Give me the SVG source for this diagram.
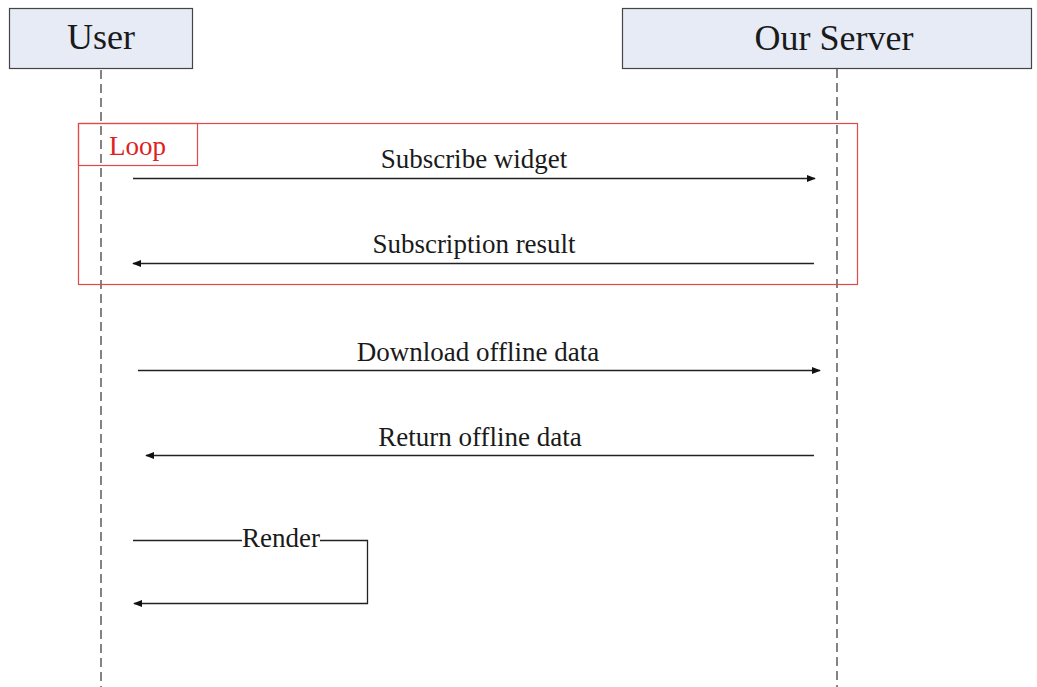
<svg xmlns="http://www.w3.org/2000/svg" width="1037" height="687" viewBox="0 0 1037 687">
  <style>
    .actor rect { fill: #e6ebf6; stroke: #444; stroke-width: 1.2; }
    .actor text { font-family: "Liberation Serif", serif; font-size: 36px; fill: #1a1a1a; text-anchor: middle; }
    .lifeline { stroke: #333; stroke-width: 1.2; stroke-dasharray: 9 5; fill: none; }
    .msg { stroke: #222; stroke-width: 1.3; fill: none; }
    .label { font-family: "Liberation Serif", serif; font-size: 27px; fill: #1a1a1a; text-anchor: middle; }
    .frame { fill: none; stroke: #e24a4a; stroke-width: 1.2; }
    .frame-label { font-family: "Liberation Serif", serif; font-size: 27px; fill: #e02020; }
  </style>
  <defs>
    <marker id="arrow" viewBox="0 0 10 10" refX="9" refY="5" markerWidth="9" markerHeight="9" markerUnits="userSpaceOnUse" orient="auto">
      <path d="M0,1 L10,5 L0,9 Z" fill="#111"/>
    </marker>
  </defs>

  <!-- lifelines -->
  <g id="lifelines">
    <line class="lifeline" x1="101" y1="70" x2="101" y2="687"/>
    <line class="lifeline" x1="837" y1="69" x2="837" y2="687"/>
  </g>

  <!-- participants -->
  <g id="user" class="actor">
    <rect x="9.5" y="8.5" width="183" height="60"/>
    <text x="101" y="49">User</text>
  </g>
  <g id="server" class="actor">
    <rect x="622.5" y="8.5" width="409" height="60"/>
    <text x="834" y="50">Our Server</text>
  </g>

  <!-- loop frame -->
  <g id="loop">
    <rect class="frame" x="78.5" y="123.5" width="779" height="161"/>
    <rect class="frame" x="78.5" y="123.5" width="119" height="42"/>
    <text class="frame-label" x="109" y="155">Loop</text>
  </g>

  <!-- messages -->
  <g id="connectors">
    <line class="msg" x1="133" y1="178.5" x2="815" y2="178.5" marker-end="url(#arrow)"/>
    <line class="msg" x1="814" y1="263.5" x2="133" y2="263.5" marker-end="url(#arrow)"/>
    <line class="msg" x1="138" y1="370.5" x2="820" y2="370.5" marker-end="url(#arrow)"/>
    <line class="msg" x1="814" y1="455.5" x2="146" y2="455.5" marker-end="url(#arrow)"/>
    <polyline class="msg" points="133,540.5 242,540.5"/>
    <polyline class="msg" points="320,540.5 367.5,540.5 367.5,603.5 134,603.5" marker-end="url(#arrow)"/>
  </g>

  <!-- message labels -->
  <g id="labels">
    <text class="label" x="474" y="168">Subscribe widget</text>
    <text class="label" x="474" y="253">Subscription result</text>
    <text class="label" x="478" y="361">Download offline data</text>
    <text class="label" x="480" y="446">Return offline data</text>
    <text class="label" x="281" y="547">Render</text>
  </g>
</svg>
